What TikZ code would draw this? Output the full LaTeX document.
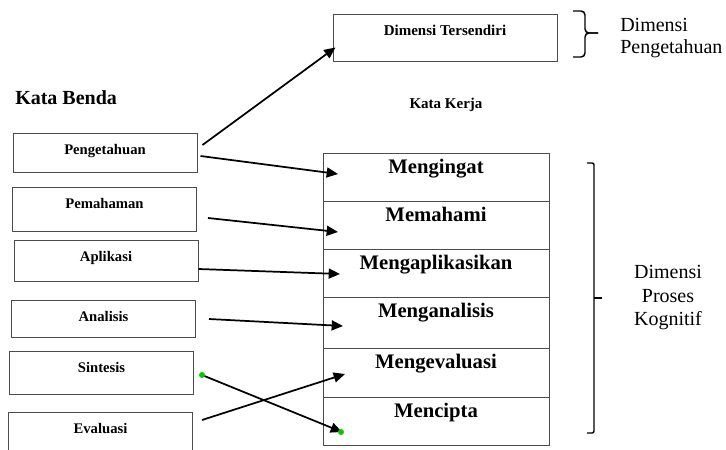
\documentclass[tikz,border=0pt]{standalone}
\usepackage{fontspec}
\setmainfont{Liberation Serif}
\usetikzlibrary{positioning,arrows.meta}

\begin{document}
\begin{tikzpicture}[x=0.75pt,y=0.75pt,yscale=-1,xscale=1,
    benda/.style={draw=black!70, line width=0.75pt, minimum width=138pt, inner sep=0pt, text height=15.75pt, font=\fontsize{11}{13}\selectfont\bfseries},
    kerja/.style={draw=black!70, line width=0.75pt, minimum width=169.5pt, inner sep=0pt, outer sep=0pt, text height=15pt, text depth=21pt, font=\fontsize{15.5}{18}\selectfont\bfseries},
    panah/.style={-{Triangle[length=8.5pt,width=7.5pt]}, line width=1.3pt},
    kurung/.style={line width=1.1pt},
    titik/.style={circle, fill=green!80!black, inner sep=0pt, minimum size=4.5pt}]

    \useasboundingbox (0,0) rectangle (726,450);

    % Text Node
    \node[anchor=west, inner sep=0pt, font=\fontsize{15}{18}\selectfont\bfseries] (judulbenda) at (15,98) {Kata Benda};
    % Text Node
    \node[inner sep=0pt, font=\fontsize{11.25}{13}\selectfont\bfseries] (judulkerja) at (446,105) {Kata Kerja};

    %Shape: kata benda (kiri)
    \node[benda, text depth=13.5pt] (peng) at (105,152.5) {Pengetahuan};
    \node[benda, text depth=17.25pt] (pemah) at (104.5,209) {Pemahaman};
    \node[benda, text depth=15pt] (aplik) at (106,260.5) {Aplikasi};
    \node[benda, text depth=12pt] (anal) at (103.5,318.5) {Analisis};
    \node[benda, text depth=16.5pt] (sint) at (101.5,372.5) {Sintesis};
    \node[benda, text depth=16.5pt] (eval) at (100.5,433.5) {Evaluasi};

    %Shape: dimensi pengetahuan (atas)
    \node[benda, minimum width=168pt, text depth=19.5pt, font=\fontsize{11.25}{13}\selectfont\bfseries] (tersendiri) at (445,37.5) {Dimensi Tersendiri};

    %Shape: kata kerja (kanan)
    \node[kerja] (ingat) at (436,177) {Mengingat};
    \node[kerja, below=0pt of ingat] (pahami) {Memahami};
    \node[kerja, below=0pt of pahami] (terap) {Mengaplikasikan};
    \node[kerja, below=0pt of terap, text depth=23.25pt] (anali) {Menganalisis};
    \node[kerja, below=0pt of anali, text depth=21.75pt] (evalu) {Mengevaluasi};
    \node[kerja, below=0pt of evalu] (cipta) {Mencipta};

    % Brackets
    \draw[kurung, rounded corners=3pt] (573,11) -| (585,33) -- (598,33);
    \draw[kurung, rounded corners=3pt] (573,57) -| (585,33) -- (598,33);
    \draw[kurung, rounded corners=1.5pt] (587,163) -- (594,163) -- (594,433) -- (587,433);
    \draw[kurung] (594,298) -- (602,298);

    % Text Node
    \node[anchor=west, inner sep=0pt, align=left, font=\fontsize{15}{16.3}\selectfont] (dimtahu) at (620,38) {Dimensi\\Pengetahuan};
    % Text Node
    \node[inner sep=0pt, align=center, font=\fontsize{15}{17.6}\selectfont] (dimproses) at (668,298) {Dimensi\\Proses\\Kognitif};

    % Arrows
    \draw[panah] ([shift={(5,-7.5)}]peng.east) -- ([shift={(3,-14)}]tersendiri.south west);
    \draw[panah] ([shift={(3,3.5)}]peng.east) -- ([shift={(15,-3)}]ingat.west);
    \draw[panah] ([shift={(11,9)}]pemah.east) -- ([shift={(15,7)}]pahami.west);
    \draw[panah] ([shift={(0,8.5)}]aplik.east) -- ([shift={(17,1)}]terap.west);
    \draw[panah] ([shift={(13,0.5)}]anal.east) -- ([shift={(20,3.5)}]anali.west);
    \draw[panah] ([shift={(9,-13.5)}]eval.east) -- ([shift={(22,1.5)}]evalu.west);
    \coordinate (awal) at ([shift={(8,2.5)}]sint.east);
    \coordinate (akhir) at ([shift={(19,11)}]cipta.west);
    \draw[panah] (awal) -- (akhir);
    \node[titik] (hijau1) at (awal) {};
    \node[titik] (hijau2) at ([shift={(-1,0)}]akhir) {};

\end{tikzpicture}
\end{document}
